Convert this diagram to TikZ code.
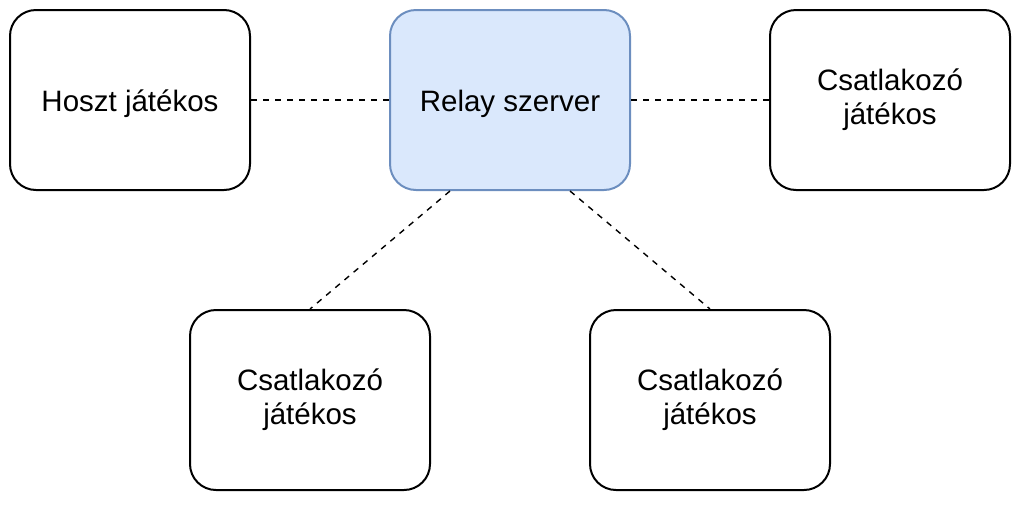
\documentclass[tikz,border=0pt]{standalone}
\usepackage{fontspec}
\setmainfont{Liberation Sans}
\usetikzlibrary{positioning}
\definecolor{relayfill}{HTML}{DAE8FC}
\definecolor{relaydraw}{HTML}{6C8EBF}
\tikzset{
    player/.style={draw=black,line width=2pt,rounded corners=26pt,minimum width=240pt,minimum height=180pt,
        align=center,font=\fontsize{29.5}{34}\selectfont,inner sep=0pt},
    oneline/.style={text height=29pt,text depth=6pt},
    relaybox/.style={player,draw=relaydraw,fill=relayfill},
    link/.style={line width=1.4pt,dash pattern=on 6pt off 6pt}
}
\begin{document}
\begin{tikzpicture}[x=1pt,y=-1pt]
            \useasboundingbox (0,0) rectangle (1022,504);
            \node[player,oneline] (host) at (130,100) {Hoszt játékos};
            \node[relaybox,oneline] (relay) at (510,100) {Relay szerver};
            \node[player] (joinR) at (890,100) {Csatlakozó\\játékos};
            \node[player] (joinBL) at (310,400) {Csatlakozó\\játékos};
            \node[player] (joinBR) at (710,400) {Csatlakozó\\játékos};

            \draw[link] (host.east)--(relay.west);
            \draw[link] (relay.east)--(joinR.west);
            \draw[link] ([xshift=-60pt]relay.south)--(joinBL.north);
            \draw[link] ([xshift=60pt]relay.south)--(joinBR.north);
        \end{tikzpicture}
\end{document}
